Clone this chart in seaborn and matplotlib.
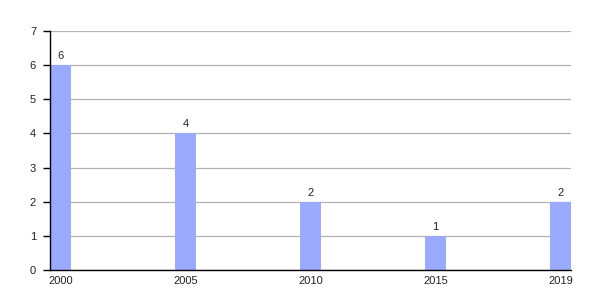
import matplotlib
matplotlib.use("Agg")
import matplotlib.pyplot as plt
import seaborn as sns
import pandas as pd

years = ["2000", "2005", "2010", "2015", "2019"]
values = [6, 4, 2, 1, 2]

sns.set_style("white")
plt.rcParams['font.family'] = ['Liberation Sans', 'DejaVu Sans']

df = pd.DataFrame({"year": years, "value": values})

fig = plt.figure(figsize=(6, 3), dpi=100)
ax = fig.add_axes([50/600, 0.1, 521/600, 239/300])
w = 0.168
sns.barplot(data=df, x="year", y="value", color="#99aaff", saturation=1,
            width=w, ax=ax, zorder=3, edgecolor="none", linewidth=0)
for p, v in zip(ax.patches, values):
    ax.text(p.get_x() + p.get_width()/2, v + 0.12, str(v), ha="center",
            va="bottom", fontsize=8, color="#222222", zorder=4)
ax.set_xlim(-w/2, len(years) - 1 + w/2)
ax.set_ylim(0, 7)
ax.set_yticks(range(0, 8))
ax.yaxis.grid(True, color="#b3b3b3", linewidth=0.9, zorder=0)
ax.xaxis.grid(False)
for s in ["top", "right"]:
    ax.spines[s].set_visible(False)
for s in ["left", "bottom"]:
    ax.spines[s].set_color("black")
    ax.spines[s].set_linewidth(1)
    ax.spines[s].set_zorder(5)
ax.tick_params(axis="y", left=True, length=5, width=1, color="black",
               labelsize=8, pad=5, labelcolor="#222222")
ax.tick_params(axis="x", bottom=False, labelsize=8, pad=1, labelcolor="#222222")
ax.set_xlabel("")
ax.set_ylabel("")
fig.savefig("out.png", dpi=100)
